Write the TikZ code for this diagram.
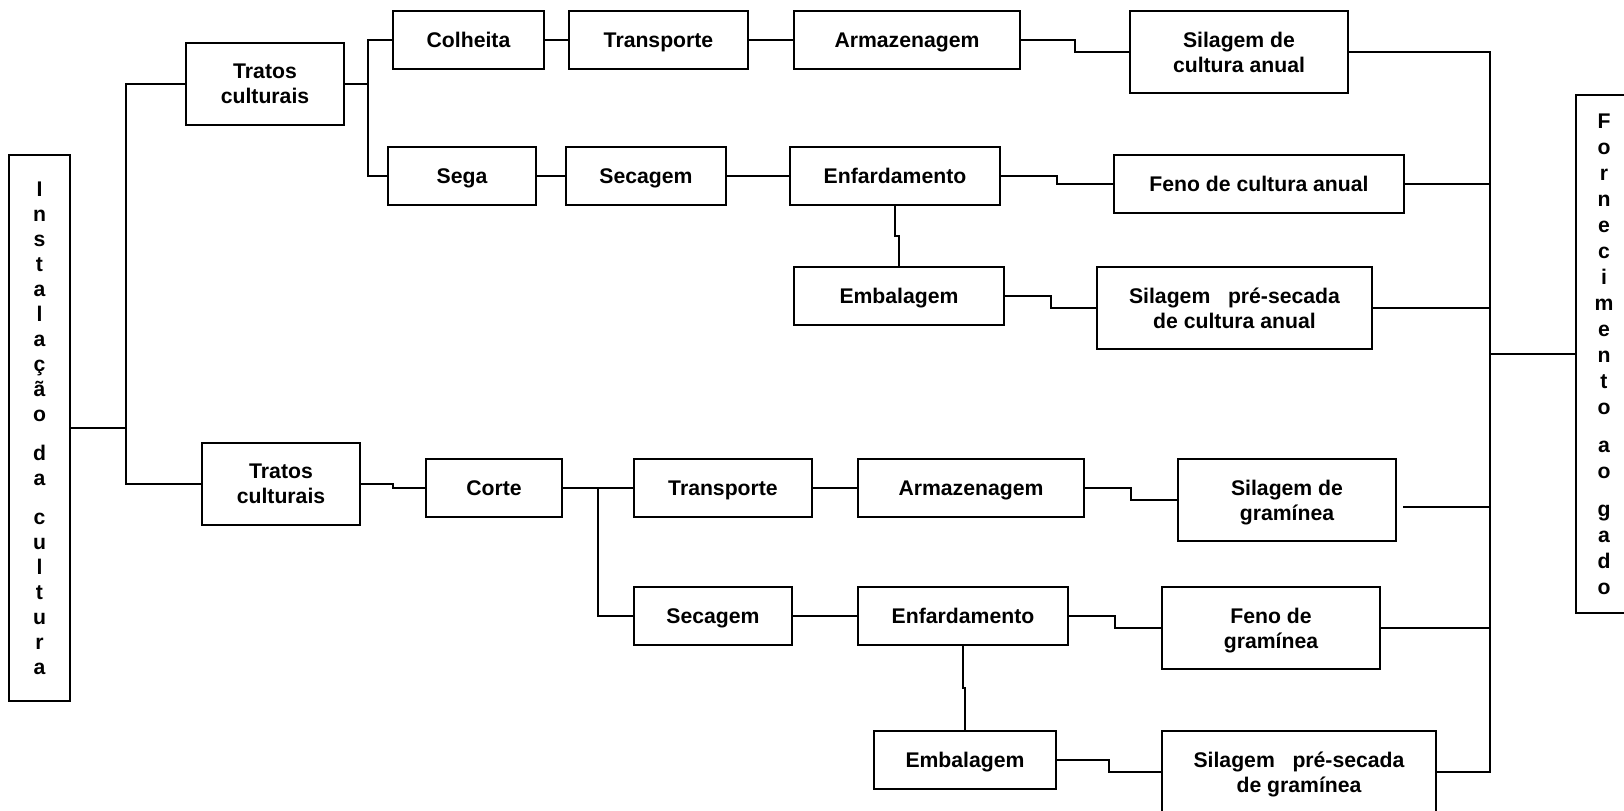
\documentclass[tikz,border=0pt]{standalone}
\usepackage{fontspec}
\setmainfont{Liberation Sans}
\usetikzlibrary{calc}

% one unit = one pixel of a 1624 x 810 canvas, y pointing down
\tikzset{
  box/.style={draw, line width=1pt, inner sep=0pt, align=center,
    font=\fontsize{10.6pt}{12.6pt}\selectfont\bfseries,
    text depth=0pt, execute at begin node={\vphantom{A}}},
  vtext/.style={font=\fontsize{10.6pt}{12.5pt}\selectfont\bfseries,
    execute at begin node={}},
  vtextw/.style={font=\fontsize{10.6pt}{13pt}\selectfont\bfseries,
    execute at begin node={}},
  link/.style={line width=1pt},
  elbow/.style={to path={-| ($(\tikztostart)!0.5!(\tikztotarget)$) |- (\tikztotarget)}},
  velbow/.style={to path={|- ($(\tikztostart)!0.5!(\tikztotarget)$) -| (\tikztotarget)}},
}

% \boxnode[style]{name}{x1}{y1}{x2}{y2}{text}
\newcommand{\boxnode}[7][]{%
  \pgfmathsetmacro{\bxw}{(#5-#3)*0.5}%
  \pgfmathsetmacro{\bxh}{(#6-#4)*0.5}%
  \node[box, #1, minimum width=\bxw pt, minimum height=\bxh pt]
    (#2) at ({(#3+#5)/2},{(#4+#6)/2}) {#7};}

\begin{document}
\begin{tikzpicture}[x=0.5pt, y=-0.5pt]
\useasboundingbox (0,0) rectangle (1624,810);
\clip (0,0) rectangle (1624,810);

% side columns
\boxnode[vtext]{inst}{9}{155}{70}{701}{I\\n\\s\\t\\a\\l\\a\\ç\\ã\\o\\[7pt]d\\a\\[7pt]c\\u\\l\\t\\u\\r\\a}
\boxnode[vtextw]{forn}{1576}{95}{1632}{613}{F\\o\\r\\n\\e\\c\\i\\m\\e\\n\\t\\o\\[6pt]a\\o\\[6pt]g\\a\\d\\o}

% annual crop branch
\boxnode{t1}{186}{43}{344}{125}{Tratos\\culturais}
\boxnode{col}{393}{11}{544}{69}{Colheita}
\boxnode{tr1}{569}{11}{748}{69}{Transporte}
\boxnode{arm1}{794}{11}{1020}{69}{Armazenagem}
\boxnode{sil1}{1130}{11}{1348}{93}{Silagem de\\cultura anual}
\boxnode{sega}{388}{147}{536}{205}{Sega}
\boxnode{sec1}{566}{147}{726}{205}{Secagem}
\boxnode{enf1}{790}{147}{1000}{205}{Enfardamento}
\boxnode{feno1}{1114}{155}{1404}{213}{Feno de cultura anual}
\boxnode{emb1}{794}{267}{1004}{325}{Embalagem}
\boxnode{silp1}{1097}{267}{1372}{349}{Silagem\ \ \ pré-secada\\de cultura anual}

% grass branch
\boxnode{t2}{202}{443}{360}{525}{Tratos\\culturais}
\boxnode{corte}{426}{459}{562}{517}{Corte}
\boxnode{tr2}{634}{459}{812}{517}{Transporte}
\boxnode{arm2}{858}{459}{1084}{517}{Armazenagem}
\boxnode{silg}{1178}{459}{1396}{541}{Silagem de\\gramínea}
\boxnode{sec2}{634}{587}{792}{645}{Secagem}
\boxnode{enf2}{858}{587}{1068}{645}{Enfardamento}
\boxnode{fenog}{1162}{587}{1380}{669}{Feno de\\gramínea}
\boxnode{emb2}{874}{731}{1056}{789}{Embalagem}
\boxnode{silpg}{1162}{731}{1436}{813}{Silagem\ \ \ pré-secada\\de gramínea}

% trunk and junction positions
\coordinate (lt) at (126,0);
\coordinate (j1) at (368,0);
\coordinate (j2) at (598,0);
\coordinate (rt) at (1490,0);

% left trunk
\draw[link] (inst.east) -- (inst.east -| lt);
\draw[link] (t1.west) -- (t1.west -| lt) -- (t2.west -| lt) -- (t2.west);

% annual crop chain
\draw[link] (t1.east) -- (t1.east -| j1);
\draw[link] (col.west) -- (col.west -| j1) -- (sega.west -| j1) -- (sega.west);
\draw[link] (col.east) -- (tr1.west);
\draw[link] (tr1.east) -- (arm1.west);
\draw[link] (arm1.east) to[elbow] (sil1.west);
\draw[link] (sega.east) -- (sec1.west);
\draw[link] (sec1.east) -- (enf1.west);
\draw[link] (enf1.east) to[elbow] (feno1.west);
\draw[link] (enf1.south) to[velbow] (emb1.north);
\draw[link] (emb1.east) to[elbow] (silp1.west);

% grass chain
\draw[link] (t2.east) to[elbow] (corte.west);
\draw[link] (corte.east) -- (tr2.west);
\draw[link] (corte.east -| j2) |- (sec2.west);
\draw[link] (tr2.east) -- (arm2.west);
\draw[link] (arm2.east) to[elbow] (silg.west);
\draw[link] (sec2.east) -- (enf2.west);
\draw[link] (enf2.east) to[elbow] (fenog.west);
\draw[link] (enf2.south) to[velbow] (emb2.north);
\draw[link] (emb2.east) to[elbow] (silpg.west);

% right trunk to the supply column
\draw[link] (sil1.east) -- (sil1.east -| rt) -- (silpg.east -| rt) -- (silpg.east);
\draw[link] (feno1.east) -- (feno1.east -| rt);
\draw[link] (silp1.east) -- (silp1.east -| rt);
\coordinate (sgo) at ($(silg.east)+(6,7)$);
\draw[link] (sgo) -- (sgo -| rt);
\draw[link] (fenog.east) -- (fenog.east -| rt);
\draw[link] (forn.west) -- (forn.west -| rt);
\end{tikzpicture}
\end{document}
